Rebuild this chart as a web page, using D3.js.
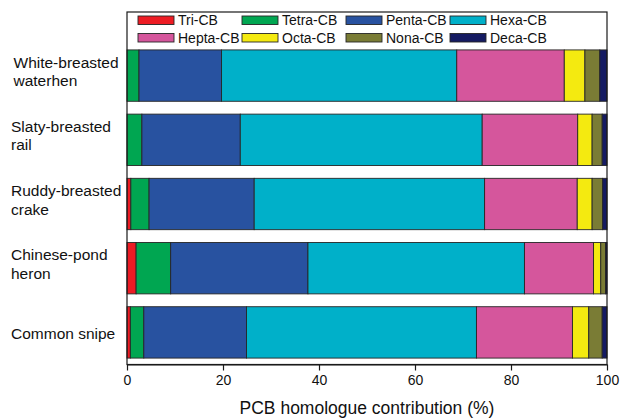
<!DOCTYPE html>
<html>
<head>
<meta charset="utf-8">
<script src="https://cdn.jsdelivr.net/npm/d3@7"></script>
<style>
    body { margin: 0; background: #fff; }
    svg { display: block; font-family: 'Liberation Sans', Arial, sans-serif; }
    .frame { fill: none; stroke: #1a1a1a; stroke-width: 1.2; }
    .seg { stroke: #262626; stroke-width: 0.9; }
    .cat-label { font-size: 15.5px; fill: #111; }
    .legend-label { font-size: 14px; fill: #111; }
    .x-axis text { font-size: 14px; fill: #111; font-family: 'Liberation Sans', Arial, sans-serif; }
    .x-axis path, .x-axis line { stroke: #1a1a1a; stroke-width: 1.2; }
    .axis-title { font-size: 17.5px; fill: #111; }
</style>
</head>
<body>
<svg id="plot" width="620" height="419"></svg>
<script>
// bird species, top to bottom (label split over lines)
const species = ['White-breasted waterhen', 'Slaty-breasted rail', 'Ruddy-breasted crake', 'Chinese-pond heron', 'Common snipe']
const speciesLines = [['White-breasted', 'waterhen'], ['Slaty-breasted', 'rail'], ['Ruddy-breasted', 'crake'], ['Chinese-pond', 'heron'], ['Common snipe']]
const homologues = ['Tri-CB', 'Tetra-CB', 'Penta-CB', 'Hexa-CB', 'Hepta-CB', 'Octa-CB', 'Nona-CB', 'Deca-CB']
const colours = ['#ed1c24', '#00a651', '#2852a0', '#00b0c9', '#d5569c', '#f4ea10', '#7a7c35', '#151b62']

// % contribution per homologue, same order as species
const tri = [0, 0, 0.8, 1.9, 0.7]
const tetra = [2.5, 3.1, 3.8, 7.2, 2.8]
const penta = [17.2, 20.5, 21.9, 28.6, 21.4]
const hexa = [49.0, 50.4, 48.0, 45.1, 47.9]
const hepta = [22.4, 19.9, 19.3, 14.4, 20.0]
const octa = [4.3, 3.0, 3.1, 1.5, 3.4]
const nona = [3.1, 2.1, 2.2, 1.0, 2.8]
const deca = [1.5, 1.0, 0.9, 0.3, 1.0]
const xTicks = [0, 20, 40, 60, 80, 100]

const series = [tri, tetra, penta, hexa, hepta, octa, nona, deca]
    , plotLeft = 127
    , plotRight = 607
    , plotTop = 12
    , plotBottom = 364.5
    , barsTop = 43.5
    , svg = d3.select('#plot')
    , rows = species.map((s, i) => {
        const row = { species: s }
        homologues.forEach((h, j) => { row[h] = series[j][i] })
        return row
    })
    , stacked = d3.stack().keys(homologues)(rows)
    , scaleX = d3.scaleLinear()
        .domain([0, 100])
        .range([plotLeft, plotRight])
    , scaleY = d3.scaleBand()
        .domain(species)
        .range([barsTop, plotBottom])
        .paddingInner(0.2)
        .paddingOuter(0.1)
    , colour = d3.scaleOrdinal(homologues, colours)

// stacked bars
svg.append('g')
    .selectAll('g')
    .data(stacked)
    .join('g')
    .attr('fill', d => colour(d.key))
    .selectAll('rect')
    .data(d => d.filter(p => p[1] - p[0] > 0))
    .join('rect')
    .attr('class', 'seg')
    .attr('x', d => scaleX(d[0]))
    .attr('width', d => scaleX(d[1]) - scaleX(d[0]))
    .attr('y', d => scaleY(d.data.species))
    .attr('height', scaleY.bandwidth())

// category labels
svg.append('g')
    .selectAll('text')
    .data(species)
    .join('text')
    .attr('class', 'cat-label')
    .attr('y', (d, i) => scaleY(d) + scaleY.bandwidth() / 2 + (speciesLines[i].length > 1 ? -8 : 6.5))
    .each(function (d, i) {
        d3.select(this).selectAll('tspan')
            .data(speciesLines[i])
            .join('tspan')
            .attr('x', i ? 11 : 13.5)
            .attr('dy', (t, k) => k ? 18.5 : 0)
            .text(t => t)
    })

// x axis
svg.append('g')
    .attr('class', 'x-axis')
    .attr('transform', `translate(0,${plotBottom})`)
    .call(d3.axisBottom(scaleX).tickValues(xTicks).tickSize(6).tickSizeOuter(0).tickPadding(5))

svg.append('text')
    .attr('class', 'axis-title')
    .attr('x', (plotLeft + plotRight) / 2)
    .attr('y', 414)
    .attr('text-anchor', 'middle')
    .text('PCB homologue contribution (%)')

// frame round legend + bars
svg.append('rect')
    .attr('class', 'frame')
    .attr('x', plotLeft)
    .attr('y', plotTop)
    .attr('width', plotRight - plotLeft)
    .attr('height', plotBottom - plotTop)

// legend, 2 rows of 4
const legend = svg.append('g')
    .selectAll('g')
    .data(homologues)
    .join('g')
    .attr('transform', (d, i) => `translate(${138 + (i % 4) * 104},${16 + Math.floor(i / 4) * 17.5})`)
legend.append('rect')
    .attr('width', 36)
    .attr('height', 8.5)
    .attr('fill', d => colour(d))
    .attr('stroke', '#262626')
    .attr('stroke-width', 0.9)
legend.append('text')
    .attr('class', 'legend-label')
    .attr('x', 40)
    .attr('y', 9.2)
    .text(d => d)
</script>
</body>
</html>
